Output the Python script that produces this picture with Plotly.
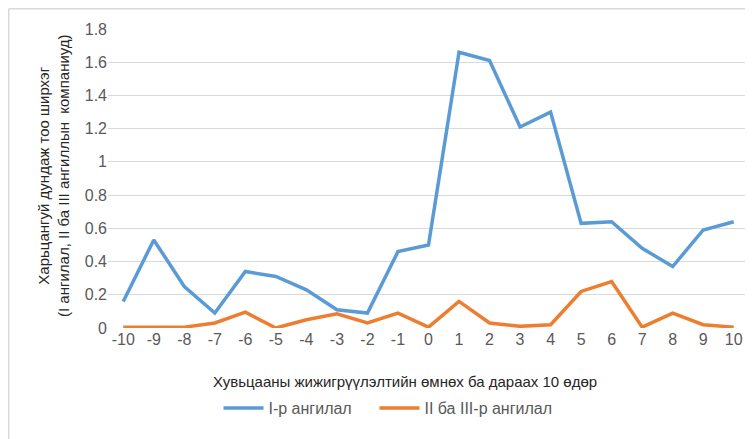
import plotly.graph_objects as go

days = [-10, -9, -8, -7, -6, -5, -4, -3, -2, -1, 0, 1, 2, 3, 4, 5, 6, 7, 8, 9, 10]
cat1 = [0.16, 0.53, 0.25, 0.09, 0.34, 0.31, 0.23, 0.11, 0.09, 0.46, 0.50,
        1.66, 1.61, 1.21, 1.30, 0.63, 0.64, 0.48, 0.37, 0.59, 0.64]
cat23 = [0.005, 0.005, 0.005, 0.03, 0.095, 0.0, 0.05, 0.085, 0.03, 0.09, 0.005,
         0.16, 0.03, 0.01, 0.02, 0.22, 0.28, 0.005, 0.09, 0.02, 0.005]
y_ticks = [0, 0.2, 0.4, 0.6, 0.8, 1, 1.2, 1.4, 1.6, 1.8]
y_ticktext = ["0", "0.2", "0.4", "0.6", "0.8", "1", "1.2", "1.4", "1.6", "1.8"]

name1 = "I-р ангилал"
name2 = "II ба III-р ангилал"
x_title = "Хувьцааны жижигрүүлэлтийн өмнөх ба дараах 10 өдөр"
y_title = "Харьцангуй дундаж тоо ширхэг<br>(I ангилал, II ба III ангиллын  компаниуд)"

FONT = "Liberation Sans"
GRAY = "#595959"

fig = go.Figure()
fig.add_trace(go.Scatter(x=days, y=cat1, mode="lines", name=name1 + "\u00a0" * 4,
                         line=dict(color="#5B9BD5", width=3.5)))
fig.add_trace(go.Scatter(x=days, y=cat23, mode="lines", name=name2,
                         line=dict(color="#ED7D31", width=3.5)))

OFF = 8  # page body margin
W, H = 753 - OFF, 439 - OFF
L = 108 - OFF
T = 29 - OFF
B = H - (328 - OFF)
R = W - (749 - OFF)
pw = W - L - R
ph = H - T - B


def px_x(xs):
    return (xs - OFF - L) / pw


def px_y(ys):
    return (H - B - (ys - OFF)) / ph


fig.update_layout(
    width=W, height=H,
    margin=dict(l=L, r=R, t=T, b=B),
    paper_bgcolor="white", plot_bgcolor="white",
    font=dict(family=FONT, size=16, color=GRAY),
    showlegend=True,
    legend=dict(orientation="h", x=px_x(388), xanchor="center",
                y=px_y(408), yanchor="middle",
                font=dict(family=FONT, size=16, color=GRAY),
                itemwidth=40, tracegroupgap=0,
                bgcolor="rgba(0,0,0,0)"),
    xaxis=dict(tickmode="array", tickvals=days, ticktext=[str(d) for d in days],
               range=[-10.5, 10.5], showgrid=False, zeroline=False,
               showline=False, ticks="", tickfont=dict(size=16, color=GRAY)),
    yaxis=dict(tickmode="array", tickvals=y_ticks, ticktext=y_ticktext,
               range=[0, 1.8], showgrid=True, gridcolor="#d9d9d9", gridwidth=1,
               zeroline=False, showline=False, ticks="",
               tickfont=dict(size=16, color=GRAY)),
    annotations=[
        dict(text=x_title, xref="paper", yref="paper", x=px_x(405), y=px_y(381),
             showarrow=False, xanchor="center", yanchor="middle",
             font=dict(family=FONT, size=15, color="#262626")),
        dict(text=y_title, xref="paper", yref="paper", x=px_x(53), y=px_y(176),
             showarrow=False, xanchor="center", yanchor="middle", textangle=-90,
             font=dict(family=FONT, size=15, color="#262626")),
    ],
    shapes=[
        dict(type="line", xref="paper", yref="paper", x0=px_x(8.7), x1=px_x(8.7),
             y0=px_y(8.7), y1=px_y(450), line=dict(color="#d9d9d9", width=1.5)),
        dict(type="line", xref="paper", yref="paper", x0=px_x(8.7), x1=px_x(760),
             y0=px_y(8.7), y1=px_y(8.7), line=dict(color="#d9d9d9", width=1.5)),
    ],
)

fig.write_html("out.html")
